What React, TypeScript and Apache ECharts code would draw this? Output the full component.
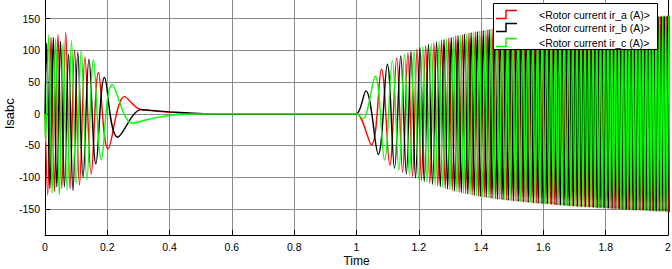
import React, { useEffect, useRef } from 'react';
import * as echarts from 'echarts';

const FONT = '"Liberation Sans", Arial, Helvetica, sans-serif';

// ---- data ----
const seriesNames = ['<Rotor current ir_a (A)>', '<Rotor current ir_b (A)>', '<Rotor current ir_c (A)>'];
const seriesColors = ['#ff0000', '#000000', '#00ff00'];

const xTickValues = [0, 0.2, 0.4, 0.6, 0.8, 1, 1.2, 1.4, 1.6, 1.8, 2];
const yTickValues = [-150, -100, -50, 0, 50, 100, 150];

// Turning points of the three phases appear in a fixed order:
// ir_b max, ir_a min, ir_c max, ir_b min, ir_a max, ir_c min, ...
const turnPhase = [1, 0, 2, 1, 0, 2];
const turnSign = [1, -1, 1, -1, 1, -1];

// start-up transient (0 .. 0.26 s): time and |value| of each turning point
const startTimes = [
  0.0054, 0.0088, 0.0123, 0.0158, 0.0193, 0.0229, 0.0266, 0.0303, 0.0341, 0.0379,
  0.0418, 0.0458, 0.0498, 0.0539, 0.0581, 0.0623, 0.0667, 0.0711, 0.0756, 0.0803,
  0.085, 0.0899, 0.0949, 0.1, 0.1053, 0.1107, 0.1164, 0.1222, 0.1283, 0.1346,
  0.1412, 0.1482, 0.1556, 0.1634, 0.1718, 0.1809, 0.191, 0.2024, 0.2159, 0.2333, 0.255,
];
const startAmps = [
  111, 128, 125, 118, 120, 125, 120, 122, 118, 115,
  125, 128, 114, 118, 112, 115, 128, 120, 94, 118,
  115, 121, 100, 110, 97, 112, 100, 100, 89, 104,
  86, 95, 85, 79, 65, 72, 57, 55, 46, 37, 27,
];

// lead-in and decaying tails of each phase [time, value]
const leadA = [[0, 0]];
const leadB = [[0, 0]];
const leadC = [[0, 0], [0.002, -45]];
const tailA = [[0.3, 8], [0.34, 5], [0.4, 2.5], [0.47, 0.6], [0.55, 0], [0.98, 0], [1.0, 0]];
const tailB = [[0.31, 6.5], [0.36, 4.5], [0.4, 3], [0.47, 0.8], [0.55, 0], [0.98, 0], [1.0, 0]];
const tailC = [[0.28, -15], [0.33, -9], [0.37, -5], [0.42, -1.5], [0.5, -0.3], [0.56, 0], [0.98, 0], [1.0, 0], [1.02, -8]];

// onset of the second oscillation (1.0 .. 1.17 s): turning points
const onsetTimes = [1.03, 1.048, 1.06, 1.07, 1.08, 1.09, 1.099, 1.107, 1.115, 1.122, 1.129, 1.136, 1.142, 1.148, 1.154, 1.16, 1.165, 1.17];
const onsetAmps = [36, 49, 59, 64, 70, 73, 78, 81, 84, 86, 88, 89, 91, 92, 94, 95, 96, 97];

// dense part (1.175 .. 2 s): start time of each electrical cycle and its amplitude
const cycleStarts = [
  1.175, 1.204, 1.231, 1.257, 1.281, 1.304, 1.326, 1.347, 1.368, 1.388,
  1.407, 1.426, 1.444, 1.462, 1.479, 1.496, 1.513, 1.529, 1.545, 1.561,
  1.576, 1.591, 1.606, 1.62, 1.634, 1.648, 1.662, 1.676, 1.69, 1.703,
  1.716, 1.729, 1.742, 1.755, 1.767, 1.779, 1.791, 1.803, 1.815, 1.827,
  1.839, 1.85, 1.861, 1.872, 1.883, 1.894, 1.905, 1.916, 1.927, 1.938,
  1.948, 1.958, 1.969, 1.979, 1.989, 1.999, 2.009,
];
const cycleAmps = [
  98, 104, 109, 113, 117, 120, 123, 125.5, 127.5, 129.5,
  131, 132.5, 134, 135, 136, 137, 138, 138.5, 139.5, 140,
  141, 141.5, 142, 142.5, 143.5, 144, 144.5, 145, 145.5, 146,
  146.5, 147, 147, 147.5, 148, 148.5, 148.5, 149, 149.5, 150,
  150, 150.5, 151, 151, 151.5, 152, 152, 152.5, 152.5, 153,
  153, 153.5, 153.5, 154, 154, 154.5, 154.5,
];

function buildPhases(): number[][][] {
  const pts: number[][][] = [leadA.map((p) => [...p]), leadB.map((p) => [...p]), leadC.map((p) => [...p])];
  startTimes.forEach((t, i) => {
    const k = i % 6;
    pts[turnPhase[k]].push([t, turnSign[k] * startAmps[i]]);
  });
  tailA.forEach((p) => pts[0].push(p));
  tailB.forEach((p) => pts[1].push(p));
  tailC.forEach((p) => pts[2].push(p));
  onsetTimes.forEach((t, i) => {
    const k = i % 6;
    pts[turnPhase[k]].push([t, turnSign[k] * onsetAmps[i]]);
  });
  for (let i = 0; i < cycleStarts.length - 1; i++) {
    const t0 = cycleStarts[i];
    const t1 = cycleStarts[i + 1];
    const a0 = cycleAmps[i];
    const a1 = cycleAmps[i + 1];
    for (let j = 0; j < 6; j++) {
      const f = j / 6;
      pts[turnPhase[j]].push([t0 + f * (t1 - t0), turnSign[j] * (a0 + f * (a1 - a0))]);
    }
  }
  const last = cycleStarts.length - 1;
  pts[turnPhase[0]].push([cycleStarts[last], cycleAmps[last]]);
  return pts;
}

export default function App() {
  const ref = useRef<HTMLDivElement>(null);
  useEffect(() => {
    if (!ref.current) return;
    const chart = echarts.init(ref.current, undefined, { renderer: 'svg' });
    const phases = buildPhases();
    const legendRows = [14.5, 27.5, 42.5];
    const legendGraphics: any[] = [
      {
        type: 'rect',
        shape: { x: 493.5, y: 3.5, width: 164, height: 46 },
        style: { fill: '#ffffff', stroke: '#000000', lineWidth: 1 },
        z: 100,
      },
    ];
    seriesNames.forEach((name, i) => {
      const y = legendRows[i];
      legendGraphics.push({
        type: 'polyline',
        shape: { points: [[496, y + 4], [506, y + 4], [506, y - 4], [517, y - 4]] },
        style: { stroke: seriesColors[i], lineWidth: 1.5, fill: 'none' },
        z: 101,
      });
      legendGraphics.push({
        type: 'text',
        x: 539,
        y,
        style: { text: name, fontFamily: FONT, fontSize: 10.5, fill: '#000', verticalAlign: 'middle', align: 'left' },
        z: 101,
      });
    });
    chart.setOption({
      animation: false,
      backgroundColor: '#ffffff',
      grid: { left: 45, right: 4, top: -7.5, bottom: 34, containLabel: false, outerBoundsMode: 'none' },
      xAxis: {
        type: 'value',
        min: 0,
        max: 2,
        interval: 0.2,
        name: 'Time',
        nameLocation: 'middle',
        nameGap: 20,
        nameMoveOverlap: false,
        nameTextStyle: { fontFamily: FONT, fontSize: 12, color: '#000' },
        axisLine: { onZero: false, lineStyle: { color: '#000', width: 1 } },
        axisTick: { inside: true, length: 5, lineStyle: { color: '#000' } },
        axisLabel: {
          fontFamily: FONT,
          fontSize: 10.5,
          color: '#000',
          margin: 6,
          formatter: (v: number) => {
            const r = Math.round(v * 10) / 10;
            return xTickValues.indexOf(r) >= 0 ? String(r) : '';
          },
        },
        splitLine: { show: true, lineStyle: { color: '#8a8a8a', width: 1 } },
      },
      yAxis: [
        {
          type: 'value',
          min: -191,
          max: 191,
          splitNumber: 8,
          minInterval: 50,
          maxInterval: 50,
          name: 'Isabc',
          nameLocation: 'middle',
          nameGap: 29,
          nameMoveOverlap: false,
          nameRotate: 90,
          nameTextStyle: { fontFamily: FONT, fontSize: 13, color: '#000' },
          axisLine: { show: true, onZero: false, lineStyle: { color: '#000', width: 1 } },
          axisTick: { show: true, inside: true, length: 5, lineStyle: { color: '#000' } },
          axisLabel: {
            fontFamily: FONT,
            fontSize: 10.5,
            color: '#000',
            margin: 5,
            showMinLabel: false,
            showMaxLabel: false,
            formatter: (v: number) => (yTickValues.indexOf(Math.round(v)) >= 0 ? String(Math.round(v)) : ''),
          },
          splitLine: { show: true, lineStyle: { color: '#8a8a8a', width: 1 } },
        },
        {
          type: 'value',
          position: 'right',
          min: -191,
          max: 191,
          splitNumber: 8,
          minInterval: 50,
          maxInterval: 50,
          axisLine: { show: true, onZero: false, lineStyle: { color: '#000', width: 1 } },
          axisTick: { show: true, inside: true, length: 5, lineStyle: { color: '#000' } },
          axisLabel: { show: false },
          splitLine: { show: false },
        },
      ],
      series: phases.map((data, i) => ({
        type: 'line',
        name: seriesNames[i],
        data,
        smooth: 0.37,
        symbol: 'none',
        showSymbol: false,
        clip: true,
        lineStyle: { color: seriesColors[i], width: 1.4 },
        itemStyle: { color: seriesColors[i] },
        z: 2 + i,
      })),
      graphic: legendGraphics,
    });
    return () => chart.dispose();
  }, []);
  return (
    <div
      ref={ref}
      style={{ position: 'fixed', left: 0, top: 0, width: 672, height: 269, background: '#fff' }}
    />
  );
}
